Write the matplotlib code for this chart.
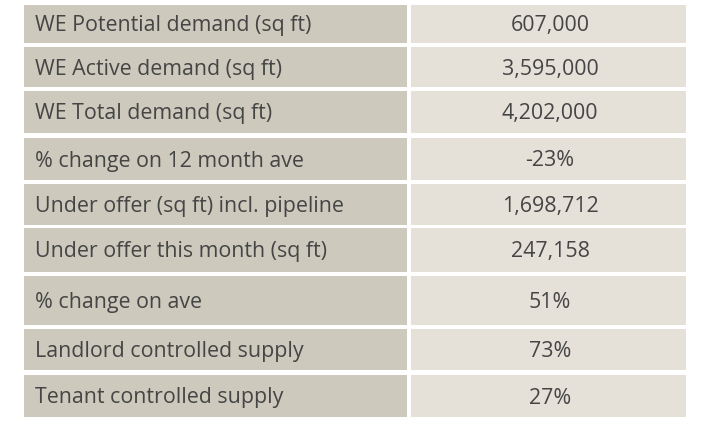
import matplotlib
matplotlib.use("Agg")
import matplotlib.pyplot as plt
from matplotlib.patches import Rectangle

labels = [
    "WE Potential demand (sq ft)",
    "WE Active demand (sq ft)",
    "WE Total demand (sq ft)",
    "% change on 12 month ave",
    "Under offer (sq ft) incl. pipeline",
    "Under offer this month (sq ft)",
    "% change on ave",
    "Landlord controlled supply",
    "Tenant controlled supply",
]
values = [
    "607,000",
    "3,595,000",
    "4,202,000",
    "-23%",
    "1,698,712",
    "247,158",
    "51%",
    "73%",
    "27%",
]

# layout (pixel units)
row_tops = [5, 47, 91, 138, 184, 228, 276, 329, 375]
row_bottoms = [43, 87, 133, 180, 225, 272, 325, 370, 417]
label_x0, label_x1 = 24, 407
value_x0, value_x1 = 411, 686

label_bg = "#cdc9bd"
value_bg = "#e6e1d8"
text_color = "#454545"

W, H = 721, 424
fig = plt.figure(figsize=(W / 100, H / 100), dpi=100)
ax = fig.add_axes([0, 0, 1, 1])
ax.set_xlim(0, W)
ax.set_ylim(H, 0)
ax.axis("off")

font = ["Open Sans", "DejaVu Sans"]
for lab, val, t, b in zip(labels, values, row_tops, row_bottoms):
    ax.add_patch(Rectangle((label_x0, t), label_x1 - label_x0, b - t,
                           facecolor=label_bg, edgecolor="none"))
    ax.add_patch(Rectangle((value_x0, t), value_x1 - value_x0, b - t,
                           facecolor=value_bg, edgecolor="none"))
    yc = (t + b) / 2
    ax.text(label_x0 + 11, yc - 0.5, lab, ha="left", va="center_baseline",
            fontsize=15.4, color=text_color, family=font)
    ax.text((value_x0 + value_x1) / 2 + 1.5, yc - 0.5, val, ha="center",
            va="center_baseline", fontsize=15.4, color=text_color, family=font)

fig.savefig("out.png", dpi=100)
